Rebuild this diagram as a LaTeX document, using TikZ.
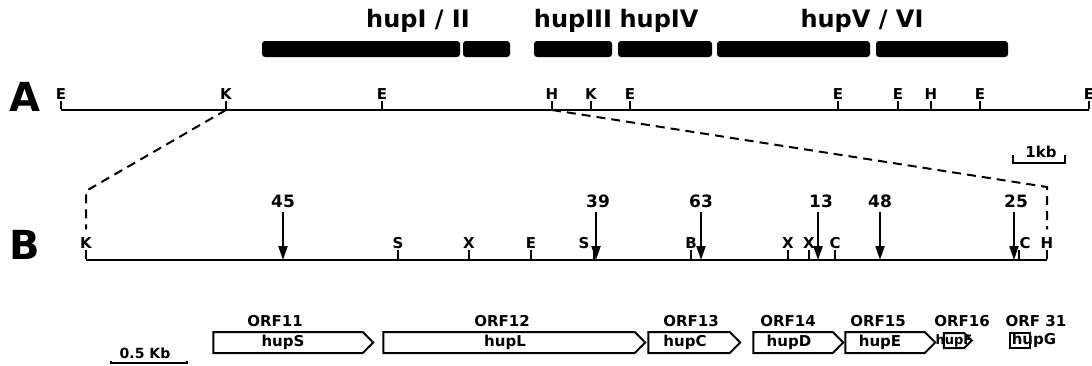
\documentclass[tikz,border=0pt]{standalone}
\usepackage{fontspec}
\setmainfont{DejaVu Sans}
\usetikzlibrary{arrows.meta,positioning,shapes.symbols}

\newcommand{\fsz}[1]{\fontsize{#1}{#1}\selectfont\bfseries}

\begin{document}
\begin{tikzpicture}[
    x=0.5pt, y=-0.5pt,
    panel/.style={font=\fsz{20}, inner sep=0pt},
    region/.style={font=\fsz{12}, inner sep=0pt},
    gbar/.style={fill=black, rounded corners=1.5pt, inner sep=0pt, minimum height=8pt},
    site/.style={font=\fsz{7.5}, inner sep=0pt},
    atick/.style={draw, line width=1pt, inner sep=0pt, minimum width=0pt, minimum height=4pt, anchor=south, label distance=3pt},
    btick/.style={atick, minimum height=4.5pt, label distance=1.5pt},
    mapline/.style={line width=1.1pt},
    zoomline/.style={line width=1pt, dash pattern=on 4.5pt off 3pt, shorten >=4pt},
    num/.style={font=\fsz{8.5}, inner sep=0pt},
    insert/.style={-{Triangle[length=7pt,width=4.5pt]}, line width=1.1pt, shorten <=2pt},
    orf/.style={signal, signal to=east, signal pointer angle=90, draw, line width=1pt, inner sep=0pt, minimum height=10.5pt},
    orflbl/.style={font=\fsz{7.5}, inner sep=0pt},
    gene/.style={font=\fsz{7.5}, inner sep=0pt},
    scalebar/.style={line width=1pt}
]
    \useasboundingbox (0,0) rectangle (1092,365);

    % Regions and bars
    \node[region] (r12) at (418,21) {hupI / II};
    \node[region] (r3) at (573,21) {hupIII};
    \node[region] (r4) at (659,21) {hupIV};
    \node[region] (r56) at (862,21) {hupV / VI};
    \node[gbar, minimum width=99pt] (b1) at (361,49) {};
    \node[gbar, minimum width=23.5pt] (b2) at (486.5,49) {};
    \node[gbar, minimum width=39pt] (b3) at (573,49) {};
    \node[gbar, minimum width=47pt] (b4) at (665,49) {};
    \node[gbar, minimum width=76.5pt] (b5) at (793.5,49) {};
    \node[gbar, minimum width=66pt] (b6) at (942,49) {};

    % Map A
    \node[panel] (pA) at (25,97) {A};
    \node[atick, label={[site]above:E}] (aE1) at (61,110) {};
    \node[atick, label={[site]above:K}] (aK1) at (226,110) {};
    \node[atick, label={[site]above:E}] (aE2) at (382,110) {};
    \node[atick, label={[site]above:H}] (aH1) at (552,110) {};
    \node[atick, label={[site]above:K}] (aK2) at (591,110) {};
    \node[atick, label={[site]above:E}] (aE3) at (630,110) {};
    \node[atick, label={[site]above:E}] (aE4) at (838,110) {};
    \node[atick, label={[site]above:E}] (aE5) at (898,110) {};
    \node[atick, label={[site]above:H}] (aH2) at (931,110) {};
    \node[atick, label={[site]above:E}] (aE6) at (980,110) {};
    \node[atick, label={[site]above:E}] (aE7) at (1089,110) {};
    \draw[mapline] (aE1.south) -- (aE7.south);

    % 1 kb scale
    \coordinate (kbL) at (1013,163);
    \coordinate (kbR) at (1065,163);
    \node[font=\fsz{7.5}, inner sep=0pt] (kb) at (1041,152) {1kb};
    \draw[scalebar] ([yshift=4pt]kbL) -- (kbL) -- (kbR) -- ([yshift=4pt]kbR);

    % Map B
    \node[panel] (pB) at (25,245) {B};
    \node[btick, label={[site,name=bKl]above:K}] (bK) at (86,260) {};
    \node[btick, label={[site]above:S}] (bS1) at (398,260) {};
    \node[btick, label={[site]above:X}] (bX1) at (469,260) {};
    \node[btick, label={[site]above:E}] (bE) at (531,260) {};
    \node[btick, label={[site,xshift=-5pt]above:S}] (bS2) at (594,260) {};
    \node[btick, label={[site]above:B}] (bB) at (691,260) {};
    \node[btick, label={[site]above:X}] (bX2) at (788,260) {};
    \node[btick, label={[site]above:X}] (bX3) at (809,260) {};
    \node[btick, label={[site]above:C}] (bC1) at (835,260) {};
    \node[btick, label={[site,xshift=3pt]above:C}] (bC2) at (1019,260) {};
    \node[btick, label={[site,name=bHl]above:H}] (bH) at (1047,260) {};
    \draw[mapline] (bK.south) -- (bH.south);

    % Zoom from A to B
    \coordinate (lc) at (86,191);
    \coordinate (rc) at (1047,187);
    \draw[zoomline] (aK1.south) -- (lc) -- (bKl.north);
    \draw[zoomline] (aH1.south) -- (rc) -- (bHl.north);

    % Insertions
    \node[num] (i45) at (283,201) {45};
    \node[num] (i39) at (598,201) {39};
    \node[num] (i63) at (701,201) {63};
    \node[num] (i13) at (821,201) {13};
    \node[num] (i48) at (880,201) {48};
    \node[num] (i25) at (1016,201) {25};
    \draw[insert] (i45.south) -- (i45.south |- bK.south);
    \draw[insert] ([xshift=-1pt]i39.south) -- ([xshift=-1pt]i39.south |- bK.south);
    \draw[insert] (i63.south) -- (i63.south |- bK.south);
    \draw[insert] ([xshift=-1.5pt]i13.south) -- ([xshift=-1.5pt]i13.south |- bK.south);
    \draw[insert] (i48.south) -- (i48.south |- bK.south);
    \draw[insert] ([xshift=-1pt]i25.south) -- ([xshift=-1pt]i25.south |- bK.south);

    % ORFs
    \node[orflbl] (l11) at (275,321) {ORF11};
    \node[orflbl] (l12) at (502,321) {ORF12};
    \node[orflbl] (l13) at (691,321) {ORF13};
    \node[orflbl] (l14) at (788,321) {ORF14};
    \node[orflbl] (l15) at (878,321) {ORF15};
    \node[orflbl] (l16) at (962,321) {ORF16};
    \node[orflbl] (l31) at (1036,321) {ORF 31};
    \node[orf, minimum width=80pt, label={[gene,xshift=-2.5pt]center:hupS}] (o11) at (288,342.5) {};
    \node[orf, minimum width=131pt, label={[gene,xshift=-2pt]center:hupL}] (o12) at (509,342.5) {};
    \node[orf, minimum width=46pt, label={[gene,xshift=-2pt]center:hupC}] (o13) at (689,342.5) {};
    \node[orf, minimum width=45pt, label={[gene,xshift=-2pt]center:hupD}] (o14) at (793,342.5) {};
    \node[orf, minimum width=45pt, label={[gene,xshift=-2.5pt]center:hupE}] (o15) at (885,342.5) {};
    \node[orf, minimum width=14pt, minimum height=7.5pt, label={[gene,font=\fsz{6.5}]center:hupF}] (o16) at (954,340.5) {};
    \node[draw, line width=1pt, inner sep=0pt, minimum width=10pt, minimum height=7.5pt, label={[gene,xshift=7pt]center:hupG}] (o31) at (1020,340.5) {};

    % 0.5 kb scale
    \coordinate (hkL) at (111,363);
    \coordinate (hkR) at (187,363);
    \node[font=\fsz{7}, inner sep=0pt] (hk) at (145,353) {0.5 Kb};
    \draw[scalebar] ([yshift=1pt]hkL) -- (hkL) -- (hkR) -- ([yshift=1pt]hkR);
\end{tikzpicture}
\end{document}
